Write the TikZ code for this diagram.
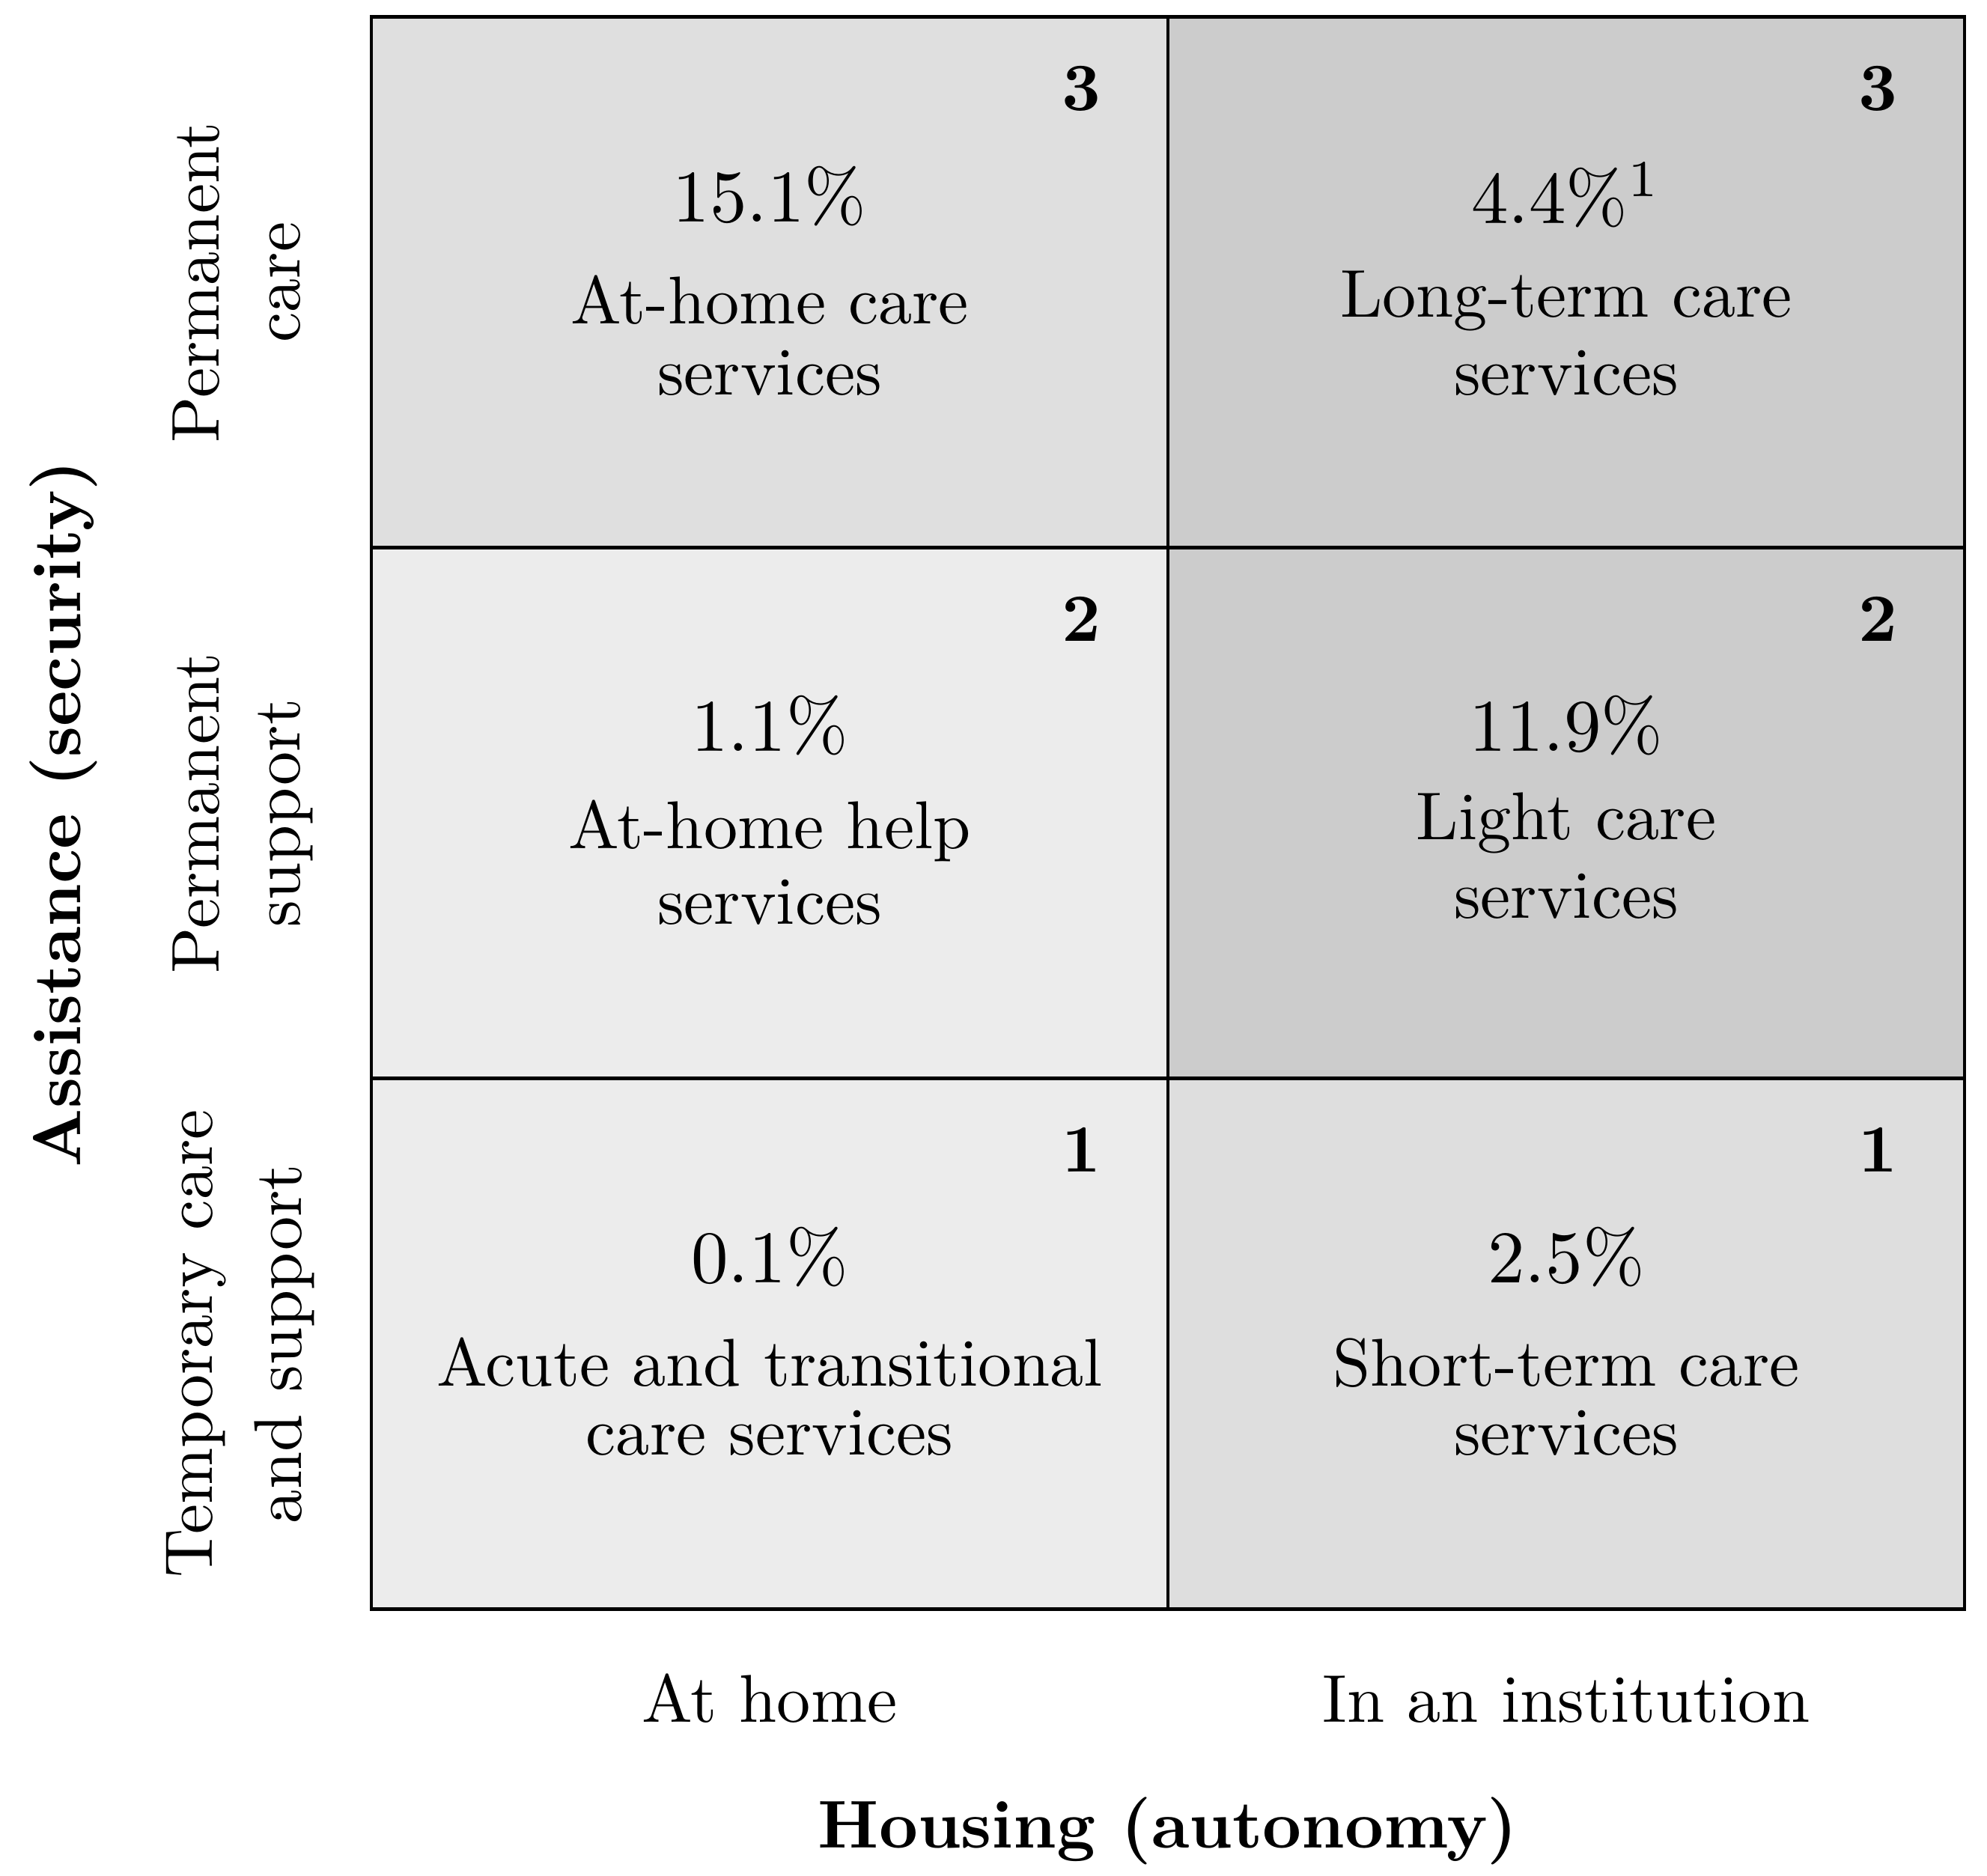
\documentclass[tikz,border=0pt]{standalone}
\usepackage{graphicx}
\newcommand{\SLab}[1]{\scalebox{2.57}{\fontsize{10}{12}\selectfont #1}}
\newcommand{\SPct}[1]{\scalebox{2.82}{\fontsize{10}{12}\selectfont #1}}
\newcommand{\SBold}[1]{\scalebox{2.57}{\fontsize{10}{12}\selectfont\bfseries #1}}
\begin{document}
\begin{tikzpicture}[x=1cm,y=1cm,
  cellbox/.style={draw=black, line width=1.3pt, minimum width=10.64cm, minimum height=7.09cm, inner sep=0pt, outer sep=0pt},
  txt/.style={anchor=base, inner sep=0pt},
  rowlbl/.style={anchor=base, inner sep=0pt, rotate=90}]
\definecolor{gtl}{gray}{0.875}
\definecolor{gtr}{gray}{0.80}
\definecolor{gml}{gray}{0.925}
\definecolor{gmr}{gray}{0.80}
\definecolor{gbl}{gray}{0.925}
\definecolor{gbr}{gray}{0.87}
\useasboundingbox (0,0) rectangle (26.54,-25.05);
% cells
\node[cellbox, fill=gtl] (c11) at (10.28,-3.77) {};
\node[cellbox, fill=gtr] (c12) at (20.92,-3.77) {};
\node[cellbox, fill=gml] (c21) at (10.28,-10.86) {};
\node[cellbox, fill=gmr] (c22) at (20.92,-10.86) {};
\node[cellbox, fill=gbl] (c31) at (10.28,-17.95) {};
\node[cellbox, fill=gbr] (c32) at (20.92,-17.95) {};
% level numbers
\node[txt] (n11) at (14.44,-1.47) {\SBold{3}};
\node[txt] (n12) at (25.08,-1.47) {\SBold{3}};
\node[txt] (n21) at (14.44,-8.56) {\SBold{2}};
\node[txt] (n22) at (25.08,-8.56) {\SBold{2}};
\node[txt] (n31) at (14.44,-15.65) {\SBold{1}};
\node[txt] (n32) at (25.08,-15.65) {\SBold{1}};
% top row
\node[txt] (p11) at (10.28,-2.96) {\SPct{15.1\%}};
\node[txt] (a11) at (10.28,-4.32) {\SLab{At-home care}};
\node[txt] (b11) at (10.28,-5.27) {\SLab{services}};
\node[txt] (p12) at (20.92,-2.98) {\SPct{4.4\%$^1$}};
\node[txt] (a12) at (20.92,-4.23) {\SLab{Long-term care}};
\node[txt] (b12) at (20.92,-5.27) {\SLab{services}};
% middle row
\node[txt] (p21) at (10.28,-10.03) {\SPct{1.1\%}};
\node[txt] (a21) at (10.28,-11.33) {\SLab{At-home help}};
\node[txt] (b21) at (10.28,-12.34) {\SLab{services}};
\node[txt] (p22) at (20.92,-10.03) {\SPct{11.9\%}};
\node[txt] (a22) at (20.92,-11.21) {\SLab{Light care}};
\node[txt] (b22) at (20.92,-12.26) {\SLab{services}};
% bottom row
\node[txt] (p31) at (10.28,-17.13) {\SPct{0.1\%}};
\node[txt] (a31) at (10.28,-18.51) {\SLab{Acute and transitional}};
\node[txt] (b31) at (10.28,-19.43) {\SLab{care services}};
\node[txt] (p32) at (20.92,-17.13) {\SPct{2.5\%}};
\node[txt] (a32) at (20.92,-18.51) {\SLab{Short-term care}};
\node[txt] (b32) at (20.92,-19.43) {\SLab{services}};
% row labels
\node[rowlbl] (r1a) at (2.92,-3.77) {\SLab{Permanent}};
\node[rowlbl] (r1b) at (4.00,-3.77) {\SLab{care}};
\node[rowlbl] (r2a) at (2.92,-10.86) {\SLab{Permanent}};
\node[rowlbl] (r2b) at (4.00,-10.86) {\SLab{support}};
\node[rowlbl] (r3a) at (2.83,-17.95) {\SLab{Temporary care}};
\node[rowlbl] (r3b) at (4.02,-17.95) {\SLab{and support}};
\node[rowlbl] (ay) at (1.07,-10.87) {\SBold{Assistance (security)}};
% column labels
\node[txt] (col1) at (10.28,-23.00) {\SLab{At home}};
\node[txt] (col2) at (20.92,-23.00) {\SLab{In an institution}};
\node[txt] (ax) at (15.60,-24.68) {\SBold{Housing (autonomy)}};
\end{tikzpicture}
\end{document}
